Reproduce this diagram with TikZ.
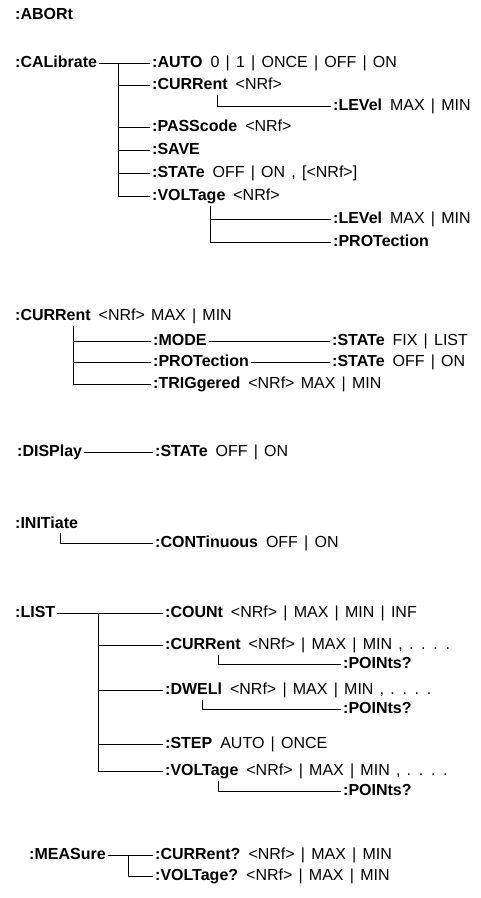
\documentclass[tikz,border=0pt]{standalone}
\usepackage{fontspec}
\setmainfont[WordSpace=1.4]{Liberation Sans}

\begin{document}
\begin{tikzpicture}[
  x=1pt, y=-1pt,
  font=\fontsize{16}{19}\selectfont,
  cmd/.style={anchor=west, inner sep=2pt, text height=11.5pt, text depth=3pt},
  wire/.style={line width=0.8pt, draw=black}
]
\path[fill=white] (0,0) rectangle (481,898);

% ABORt
\node[cmd] (abort) at (13,15) {\textbf{:ABORt}};

% CALibrate subsystem
\node[cmd] (cal) at (13,63) {\textbf{:CALibrate}};
\coordinate (calT) at (118,63);
\node[cmd] (calauto) at (150,63) {\textbf{:AUTO}\enspace 0 | 1 | ONCE | OFF | ON};
\node[cmd] (calcurr) at (150,85) {\textbf{:CURRent}\enspace <NRf>};
\coordinate (calcurrS) at (217,95);
\node[cmd] (calcurrlev) at (331,106) {\textbf{:LEVel}\enspace MAX | MIN};
\node[cmd] (calpass) at (150,127) {\textbf{:PASScode}\enspace <NRf>};
\node[cmd] (calsave) at (150,150) {\textbf{:SAVE}};
\node[cmd] (calstat) at (150,173) {\textbf{:STATe}\enspace OFF | ON , [<NRf>]};
\node[cmd] (calvolt) at (150,196) {\textbf{:VOLTage}\enspace <NRf>};
\coordinate (calvoltS) at (210,206);
\node[cmd] (calvoltlev) at (331,219) {\textbf{:LEVel}\enspace MAX | MIN};
\node[cmd] (calvoltprot) at (331,242) {\textbf{:PROTection}};

\draw[wire] (cal.east) -- (calauto.west);
\foreach \c in {calcurr,calpass,calsave,calstat,calvolt}
  \draw[wire] (calT) |- (\c.west);
\draw[wire] (calcurrS) |- (calcurrlev.west);
\draw[wire] (calvoltS) |- (calvoltlev.west);
\draw[wire] (calvoltS) |- (calvoltprot.west);

% CURRent subsystem
\node[cmd] (curr) at (13,316) {\textbf{:CURRent}\enspace<NRf> MAX | MIN};
\coordinate (currT) at (73,326);
\node[cmd] (currmode) at (151,341) {\textbf{:MODE}};
\node[cmd] (currmodestat) at (330,341) {\textbf{:STATe}\enspace FIX | LIST};
\node[cmd] (currprot) at (151,362) {\textbf{:PROTection}};
\node[cmd] (currprotstat) at (330,362) {\textbf{:STATe}\enspace OFF | ON};
\node[cmd] (currtrig) at (151,384) {\textbf{:TRIGgered}\enspace<NRf> MAX | MIN};

\foreach \c in {currmode,currprot,currtrig}
  \draw[wire] (currT) |- (\c.west);
\draw[wire] (currmode.east) -- (currmodestat.west);
\draw[wire] (currprot.east) -- (currprotstat.west);

% DISPlay subsystem
\node[cmd] (disp) at (15,452) {\textbf{:DISPlay}};
\node[cmd] (dispstat) at (153,452) {\textbf{:STATe}\enspace OFF | ON};
\draw[wire] (disp.east) -- (dispstat.west);

% INITiate subsystem
\node[cmd] (init) at (13,524) {\textbf{:INITiate}};
\coordinate (initS) at (60,533);
\node[cmd] (initcont) at (153,543) {\textbf{:CONTinuous}\enspace OFF | ON};
\draw[wire] (initS) |- (initcont.west);

% LIST subsystem
\node[cmd] (list) at (13,613) {\textbf{:LIST}};
\coordinate (listT) at (98,613);
\node[cmd] (listcount) at (163,613) {\textbf{:COUNt}\enspace <NRf> | MAX | MIN | INF};
\node[cmd] (listcurr) at (163,645) {\textbf{:CURRent}\enspace <NRf> | MAX | MIN , . . . .};
\coordinate (listcurrS) at (218,655);
\node[cmd] (listcurrpts) at (341,664) {\textbf{:POINts?}};
\node[cmd] (listdwel) at (163,690) {\textbf{:DWELl}\enspace <NRf> | MAX | MIN , . . . .};
\coordinate (listdwelS) at (202,700);
\node[cmd] (listdwelpts) at (341,709) {\textbf{:POINts?}};
\node[cmd] (liststep) at (163,744) {\textbf{:STEP}\enspace AUTO | ONCE};
\node[cmd] (listvolt) at (163,771) {\textbf{:VOLTage}\enspace <NRf> | MAX | MIN , . . . .};
\coordinate (listvoltS) at (218,781);
\node[cmd] (listvoltpts) at (341,791) {\textbf{:POINts?}};

\draw[wire] (list.east) -- (listcount.west);
\foreach \c in {listcurr,listdwel,liststep,listvolt}
  \draw[wire] (listT) |- (\c.west);
\draw[wire] (listcurrS) |- (listcurrpts.west);
\draw[wire] (listdwelS) |- (listdwelpts.west);
\draw[wire] (listvoltS) |- (listvoltpts.west);

% MEASure subsystem
\node[cmd] (meas) at (27,855) {\textbf{:MEASure}};
\coordinate (measT) at (128,855);
\node[cmd] (meascurr) at (153,855) {\textbf{:CURRent?}\enspace <NRf> | MAX | MIN};
\node[cmd] (measvolt) at (153,876) {\textbf{:VOLTage?}\enspace <NRf> | MAX | MIN};
\draw[wire] (meas.east) -- (meascurr.west);
\draw[wire] (measT) |- (measvolt.west);

\end{tikzpicture}
\end{document}
